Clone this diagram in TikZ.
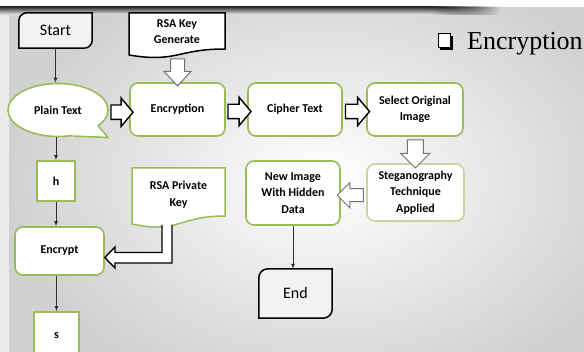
\documentclass[tikz,border=0pt]{standalone}
\usepackage{fontspec}
\setmainfont{Carlito}
\newfontfamily\timesf{Liberation Serif}
\usetikzlibrary{shapes.geometric,shapes.arrows,calc,fadings,arrows.meta}
\definecolor{grn}{HTML}{9BBB59}
\definecolor{lgrn}{HTML}{C3D69B}
\definecolor{termfill}{HTML}{F2F2F2}
\definecolor{linec}{HTML}{303030}
\newcommand{\termshape}[2]{%
  \draw[termline] ($(#1.north west)+(0,#2)$) .. controls +(0,-0.55*#2) and +(-0.55*#2,0) .. ($(#1.north west)+(#2,0)$)
   -- (#1.north east) -- ($(#1.south east)+(0,-#2)$) .. controls +(0,0.55*#2) and +(0.55*#2,0) .. ($(#1.south east)+(-#2,0)$)
   -- (#1.south west) -- cycle;}
\begin{document}
\begin{tikzpicture}[x=1pt,y=-1pt,
  lbl/.style={align=center, font=\bfseries\fontsize{12}{16.5}\selectfont, inner sep=0pt},
  gbox/.style={lbl, draw=grn, line width=1.6pt, fill=white, rounded corners=8pt},
  sqbox/.style={lbl, draw=grn, line width=1.6pt, fill=white},
  termnode/.style={font=\fontsize{16}{18}\selectfont, inner sep=0pt},
  termline/.style={draw=black, line width=1.5pt, fill=termfill},
  docline/.style={line width=1.5pt, fill=white},
  thinarr/.style={draw=linec, line width=0.8pt, -{Latex[length=5pt,width=4pt]}},
  barrow/.style={single arrow, fill=white, inner sep=6.5pt, minimum width=0pt,
    text height=0pt, text depth=0pt, single arrow head indent=0pt},
  barblack/.style={barrow, draw=black, line width=1.4pt},
  bargray/.style={barrow, draw=black!55, line width=1pt},
]
\useasboundingbox (0,0) rectangle (584,352);
\begin{scope}
\clip (0,0) rectangle (584,352);
% background
\fill[black!8] (0,0) rectangle (584,352);
\shade[inner color=white, outer color=black!18] (9,-40) rectangle (640,400);
\fill[white] (0,0) rectangle (584,7);
\fill[top color=black!80, bottom color=black!4] (0,7) rectangle (430,15);
\fill[top color=black!80, bottom color=black!4, path fading=east] (430,7) rectangle (500,15);

% heading
\draw[line width=1pt, fill=white] (438,34) rectangle (450,48);
\draw[line width=2pt] (440,49) -- (451.5,49) -- (451.5,36);
\node[anchor=base west, font=\timesf\fontsize{26}{30}\selectfont, inner sep=0pt] (title) at (467,50) {Encryption};

% start
\node[termnode, minimum width=73pt, minimum height=35pt] (start) at (55.5,30.5) {};
\termshape{start}{8}
\node[termnode] at (start) {Start};

% RSA Key Generate (document shape)
\draw[docline, draw=black] (129,13) -- (225,13) -- (225,49) .. controls (177,49) and (177,63) .. (129,55) -- cycle;
% down arrow into Encryption
\node[gbox, minimum width=95pt, minimum height=53pt] (enc) at (177.5,109.5) {Encryption};
\node[bargray, shape border rotate=270, minimum height=27pt, single arrow head extend=6.5pt, single arrow tip angle=86] (a1) at ($(enc.north)+(0,-13.5)$) {};
\node[lbl] (rsakey) at (177,31.5) {RSA Key\\Generate};

% Plain text callout
\node[ellipse, draw=grn, line width=1.6pt, fill=white, minimum width=100pt, minimum height=53pt, inner sep=0pt] (plain) at (58,110) {};
\coordinate (tip) at (108,137.5);
\fill[white] (plain.-22) -- (tip) -- (plain.-60) -- (plain.center) -- cycle;
\draw[grn, line width=1.6pt, line join=miter] (plain.-22) -- (tip) -- (plain.-60);
\node[lbl] at (plain) {Plain Text};

% other boxes
\node[gbox, minimum width=94pt, minimum height=53pt] (cipher) at (295,109.5) {Cipher Text};
\node[gbox, minimum width=96pt, minimum height=53pt] (select) at (415,109.5) {Select Original\\Image};
\node[gbox, draw=lgrn, minimum width=97pt, minimum height=57pt] (steg) at (415.5,192.5) {Steganography\\Technique\\Applied};
\node[gbox, minimum width=94pt, minimum height=64pt] (newimg) at (293,193) {New Image\\With Hidden\\Data};

% right block arrows
\node[barblack, minimum height=22pt, single arrow head extend=7pt, single arrow tip angle=100] (r1) at ($(plain.east)!.5!(enc.west)+(0,2.5)$) {};
\node[barblack, minimum height=23pt, single arrow head extend=7pt, single arrow tip angle=100] (r2) at ($(enc.east)!.5!(cipher.west)+(0,2)$) {};
\node[barblack, minimum height=24pt, single arrow head extend=7pt, single arrow tip angle=100] (r3) at ($(cipher.east)!.5!(select.west)+(0,2)$) {};
% down arrow select -> steg
\node[bargray, shape border rotate=270, inner sep=7.5pt, minimum height=28pt, single arrow head extend=6.5pt, single arrow tip angle=90] (a2) at ($(select.south)!.5!(steg.north)$) {};
% left arrow steg -> new image
\node[bargray, shape border rotate=180, inner sep=6pt, minimum height=26pt, single arrow head extend=6pt, single arrow tip angle=90] (a3) at ($(newimg.east)!.5!(steg.west)+(0,2.5)$) {};

% End
\node[termnode, minimum width=73pt, minimum height=49pt] (endn) at (295.5,293.5) {};
\termshape{endn}{9}
\node[termnode] at (endn) {End};
\draw[thinarr] (newimg.south) -- (newimg.south |- endn.north);

% left column
\node[sqbox, minimum width=38pt, minimum height=40pt] (h) at (56,181) {h};
\node[gbox, minimum width=89pt, minimum height=48pt] (encr) at (59.5,251) {Encrypt};
\node[sqbox, minimum width=45pt, minimum height=48pt] (s) at (56.5,336) {s};

\draw[thinarr] (start.south) -- (start.south |- plain.north);
\draw[thinarr] (h.north |- plain.south) -- (h.north);
\draw[thinarr] (h.south) -- (h.south |- encr.north);
\draw[thinarr] (s.north |- encr.south) -- (s.north);

% RSA Private Key
\draw[docline, draw=grn] (132,168) -- (225,168) -- (225,216) .. controls (178.5,216) and (178.5,234) .. (132,224) -- cycle;
\node[lbl] (pkey) at (178.5,194.5) {RSA Private\\Key};
% elbow block arrow
\draw[line width=1.4pt, fill=white, line join=miter]
  (162,225) -- (162,252.5) -- (115,252.5) -- (115,247) -- (encr.east |- 0,257.5) -- (115,268) -- (115,263) -- (172,263) -- (172,225);
\end{scope}
\end{tikzpicture}
\end{document}
